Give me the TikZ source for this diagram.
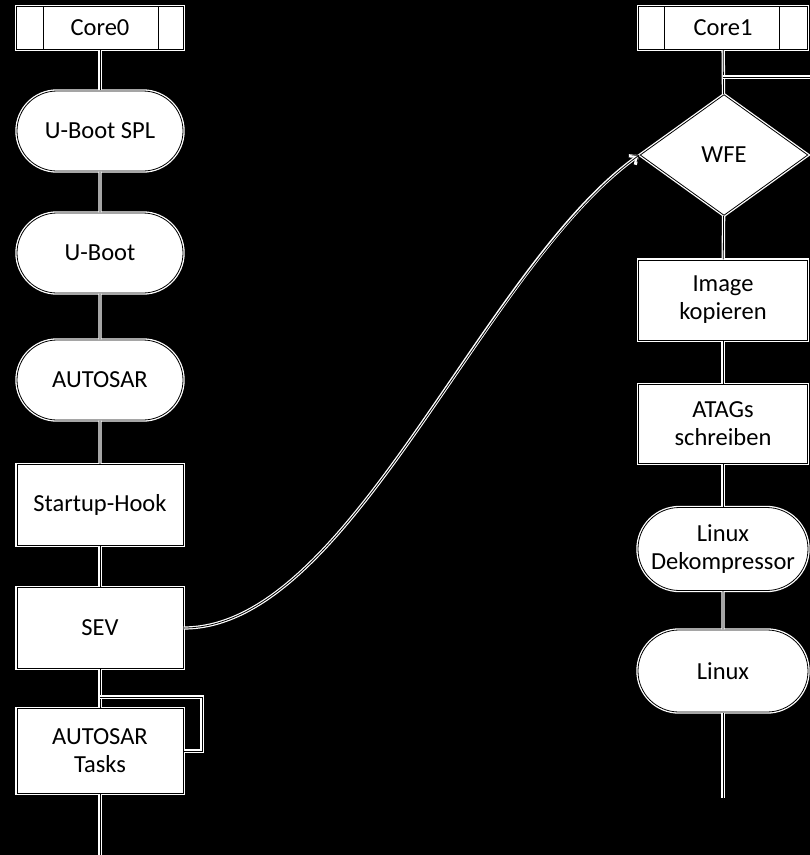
\documentclass[tikz,border=0pt]{standalone}
\usepackage{fontspec}
\setmainfont{Carlito}
\usetikzlibrary{shapes.misc,shapes.geometric,calc,arrows.meta}
\begin{document}
\begin{tikzpicture}[x=1pt,y=-1pt,
  base/.style={fill=white,draw=white,line width=1.3pt,double=black,double distance=0.8pt,
    inner sep=0pt,align=center,font=\fontsize{24.5}{28}\selectfont,text=black},
  hdr/.style={base,rectangle,minimum width=167pt,minimum height=43pt},
  term/.style={base,rounded rectangle,rounded rectangle arc length=180,minimum width=166pt,minimum height=80pt},
  proc/.style={base,rectangle,minimum width=166pt,minimum height=81pt},
  dec/.style={base,diamond,minimum width=168pt,minimum height=121pt},
  conn/.style={draw=white,line width=1.3pt,double=black,double distance=0.8pt},
  div/.style={draw=black,line width=0.8pt}]
\fill[black] (0,0) rectangle (810,855);
\useasboundingbox (0,0) rectangle (810,855);
% left column
\node[hdr] (c0) at (100,28) {Core0};
\node[term] (spl) at (100,131) {U-Boot SPL};
\node[term] (ub) at (100,253) {U-Boot};
\node[term] (aut) at (100,380) {AUTOSAR};
\node[proc] (hook) at (100,505) {Startup-Hook};
\node[proc] (sev) at (100,628) {SEV};
\node[proc,minimum height=85pt] (tasks) at (100,751) {AUTOSAR\\Tasks};
\coordinate (end0) at (100,857);
\coordinate (lp) at (100,697);
\coordinate (lpr) at (202,697);
% right column
\node[hdr,minimum width=169pt] (c1) at (723,28) {Core1};
\node[dec] (wfe) at (724,155) {WFE};
\node[proc,minimum width=169pt,minimum height=80pt] (img) at (723,300) {Image\\kopieren};
\node[proc,minimum width=169pt,minimum height=79pt] (atag) at (723,424) {ATAGs\\schreiben};
\node[term,minimum width=170pt,minimum height=83pt] (dek) at (723,549) {Linux\\Dekompressor};
\node[term,minimum width=170pt,minimum height=82pt] (lin) at (723,671) {Linux};
\coordinate (end1) at (723,798);
\coordinate (tl) at (723,77);
\coordinate (tr) at (812,77);
% header dividers
\draw[div] ($(c0.north west)+(28,0)$) -- ($(c0.south west)+(28,0)$);
\draw[div] ($(c0.north east)+(-26,0)$) -- ($(c0.south east)+(-26,0)$);
\draw[div] ($(c1.north west)+(27,0)$) -- ($(c1.south west)+(27,0)$);
\draw[div] ($(c1.north east)+(-29,0)$) -- ($(c1.south east)+(-29,0)$);
% connectors left
\draw[conn] (c0) -- (spl);
\draw[conn] (spl) -- (ub);
\draw[conn] (ub) -- (aut);
\draw[conn] (aut) -- (hook);
\draw[conn] (hook) -- (sev);
\draw[conn] (sev) -- (tasks);
\draw[conn] (tasks) -- (end0);
\draw[conn] (lp) -- (lpr) |- (tasks.east);
% connectors right
\draw[conn] (c1) -- (wfe);
\draw[conn] (tl) -- (tr);
\draw[conn] (wfe) -- (img);
\draw[conn] (img) -- (atag);
\draw[conn] (atag) -- (dek);
\draw[conn] (dek) -- (lin);
\draw[conn] (lin) -- (end1);
% SEV -> WFE curve
\draw[white,line width=3.2pt,-{Straight Barb[length=6.5pt,width=11pt]}] (sev.east) .. controls (350,628) and (480,270) .. (wfe.west);
\draw[black,line width=0.8pt,-{Straight Barb[length=5.5pt,width=9pt]}] (sev.east) .. controls (350,628) and (480,270) .. (wfe.west);
\end{tikzpicture}
\end{document}
